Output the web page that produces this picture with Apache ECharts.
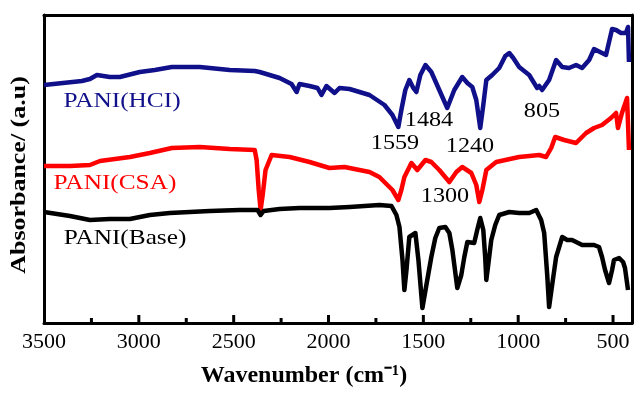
<!DOCTYPE html>
<html>
<head>
<meta charset="utf-8">
<script src="https://cdn.jsdelivr.net/npm/echarts@6/dist/echarts.min.js"></script>
<style>
  html, body { margin: 0; padding: 0; background: #fff; }
  #chart { width: 640px; height: 393px; }
</style>
</head>
<body>
<div id="chart"></div>
<script>
// FTIR spectra, [wavenumber (cm-1), absorbance (a.u., offset)]
var hclData = [
  [3500,238],[3400,240],[3300,242],[3258,244],[3221,248],[3153,246],[3100,246],[2995,251],
  [2916,253],[2826,256],[2679,256],[2521,253],[2389,252],[2363,251],[2258,245],[2195,239],
  [2168,231],[2153,239],[2100,237],[2058,235],[2037,228],[2011,237],[1968,230],[1942,235],
  [1889,234],[1784,228],[1705,218],[1663,208],[1632,196],[1616,213],[1595,233],[1574,243],
  [1553,235],[1537,231],[1516,248],[1489,258],[1458,251],[1416,233],[1374,215],[1337,233],
  [1295,246],[1268,240],[1242,236],[1221,223],[1200,195],[1184,218],[1168,243],[1137,248],
  [1100,255],[1068,267],[1047,270],[1026,265],[995,256],[942,248],[900,235],[889,237],
  [874,233],[837,243],[800,263],[768,256],[732,255],[695,258],[663,255],[626,263],
  [600,274],[558,270],[537,268],[505,294],[484,293],[458,290],[432,290],[421,296],[416,261]
];
var csaData = [
  [3500,157],[3363,157],[3258,158],[3205,162],[3126,164],[3047,166],[2942,170],[2826,175],
  [2679,176],[2521,174],[2389,173],[2379,163],[2368,133],[2358,113],[2347,128],[2332,153],
  [2300,168],[2205,166],[2100,161],[1995,155],[1916,156],[1784,151],[1732,146],[1663,133],
  [1632,123],[1616,133],[1600,146],[1563,160],[1532,153],[1489,163],[1458,161],[1416,153],
  [1363,141],[1326,151],[1295,156],[1247,150],[1221,138],[1205,121],[1189,133],[1168,153],
  [1116,161],[995,166],[889,168],[853,166],[826,175],[805,186],[758,183],[695,180],
  [642,190],[600,195],[558,198],[511,205],[484,210],[474,195],[453,210],[426,225],[416,173]
];
var baseData = [
  [3500,111],[3363,107],[3258,103],[3153,104],[3047,104],[2942,108],[2837,110],[2626,112],
  [2468,113],[2374,113],[2358,108],[2342,112],[2258,114],[2153,115],[1995,115],[1889,116],
  [1732,118],[1668,117],[1642,108],[1626,96],[1610,63],[1600,33],[1589,53],[1574,86],
  [1542,90],[1526,63],[1505,15],[1484,38],[1458,66],[1437,85],[1416,95],[1384,96],
  [1363,90],[1347,73],[1321,35],[1300,48],[1284,66],[1268,81],[1232,80],[1216,93],
  [1200,105],[1184,93],[1174,66],[1168,43],[1158,58],[1142,83],[1121,98],[1100,108],
  [1047,111],[995,110],[942,110],[905,113],[879,103],[863,90],[847,48],[837,16],
  [821,38],[800,66],[768,86],[742,83],[716,83],[663,78],[600,78],[574,76],
  [558,66],[542,53],[521,40],[505,53],[495,63],[468,65],[447,61],[437,55],[421,33]
];

var majorTicks = [3000, 2500, 2000, 1500, 1000, 500];
var tickLabels = [3500, 3000, 2500, 2000, 1500, 1000, 500];
var minorTicks = [3250, 2750, 2250, 1750, 1250, 750];

var W = 640, H = 393;
var grid = { left: 44, right: 8, top: 15, bottom: 70 };
var xMin = 400, xMax = 3500;

var chart = echarts.init(document.getElementById('chart'));
var serif = '"Liberation Serif", "Times New Roman", serif';

function label(text, x, y, color, sx) {
  return {
    type: 'text', x: x, y: y, scaleX: sx || 1.1, z: 100,
    style: { text: text, fontSize: 22, fontFamily: serif, fill: color, align: 'center', verticalAlign: 'middle' }
  };
}

// tick marks on the inside of the bottom frame (reversed wavenumber axis)
function tickMark(v, len) {
  var x = grid.left + (xMax - v) / (xMax - xMin) * (W - grid.left - grid.right);
  var y = H - grid.bottom;
  return {
    type: 'rect', z: 100,
    shape: { x: x - 1.5, y: y - len, width: 3, height: len },
    style: { fill: '#000' }
  };
}

var graphics = [
  label('PANI(HCI)', 122, 101, '#10108a', 1.15),
  label('PANI(CSA)', 115, 183, '#ff0000', 1.15),
  label('PANI(Base)', 125, 238, '#000', 1.15),
  label('1559', 395, 143, '#000'),
  label('1484', 429, 120, '#000'),
  label('1240', 470, 146, '#000'),
  label('805', 542, 111, '#000'),
  label('1300', 445, 196, '#000'),
  {
    type: 'text', x: 304, y: 376, z: 100,
    style: { text: 'Wavenumber (cm\u207B\u00B9)', fontSize: 24, fontWeight: 'bold', fontFamily: serif, fill: '#000', align: 'center', verticalAlign: 'middle' }
  },
  {
    type: 'text', x: 19, y: 175, rotation: Math.PI / 2, scaleX: 1.18, z: 100,
    style: { text: 'Absorbance/ (a.u)', fontSize: 22, fontWeight: 'bold', fontFamily: serif, fill: '#000', align: 'center', verticalAlign: 'middle' }
  }
];
majorTicks.forEach(function (v) { graphics.push(tickMark(v, 8)); });
minorTicks.forEach(function (v) { graphics.push(tickMark(v, 5)); });

chart.setOption({
  animation: false,
  grid: grid,
  xAxis: [{
    type: 'value', inverse: true, min: xMin, max: xMax, position: 'bottom',
    axisLine: { show: true, onZero: false, lineStyle: { color: '#000', width: 3 } },
    axisTick: { show: false },
    axisLabel: {
      customValues: tickLabels, fontSize: 22, fontFamily: serif, color: '#000', margin: 8,
      formatter: function (v) { return String(v); }
    },
    splitLine: { show: false }
  }, {
    type: 'value', inverse: true, min: xMin, max: xMax, position: 'top',
    axisLine: { show: true, onZero: false, lineStyle: { color: '#000', width: 3 } },
    axisTick: { show: false }, axisLabel: { show: false }, splitLine: { show: false }
  }],
  yAxis: [{
    type: 'value', min: 0, max: 308, position: 'left',
    axisLine: { show: true, onZero: false, lineStyle: { color: '#000', width: 3 } },
    axisTick: { show: false }, axisLabel: { show: false }, splitLine: { show: false }
  }, {
    type: 'value', min: 0, max: 308, position: 'right',
    axisLine: { show: true, onZero: false, lineStyle: { color: '#000', width: 3 } },
    axisTick: { show: false }, axisLabel: { show: false }, splitLine: { show: false }
  }],
  series: [
    { name: 'PANI(HCI)', type: 'line', data: hclData, showSymbol: false, color: '#10108a', lineStyle: { width: 4.5, join: 'round' } },
    { name: 'PANI(CSA)', type: 'line', data: csaData, showSymbol: false, color: '#ff0000', lineStyle: { width: 4.5, join: 'round' } },
    { name: 'PANI(Base)', type: 'line', data: baseData, showSymbol: false, color: '#000', lineStyle: { width: 4.5, join: 'round' } }
  ],
  graphic: graphics
});
</script>
</body>
</html>
